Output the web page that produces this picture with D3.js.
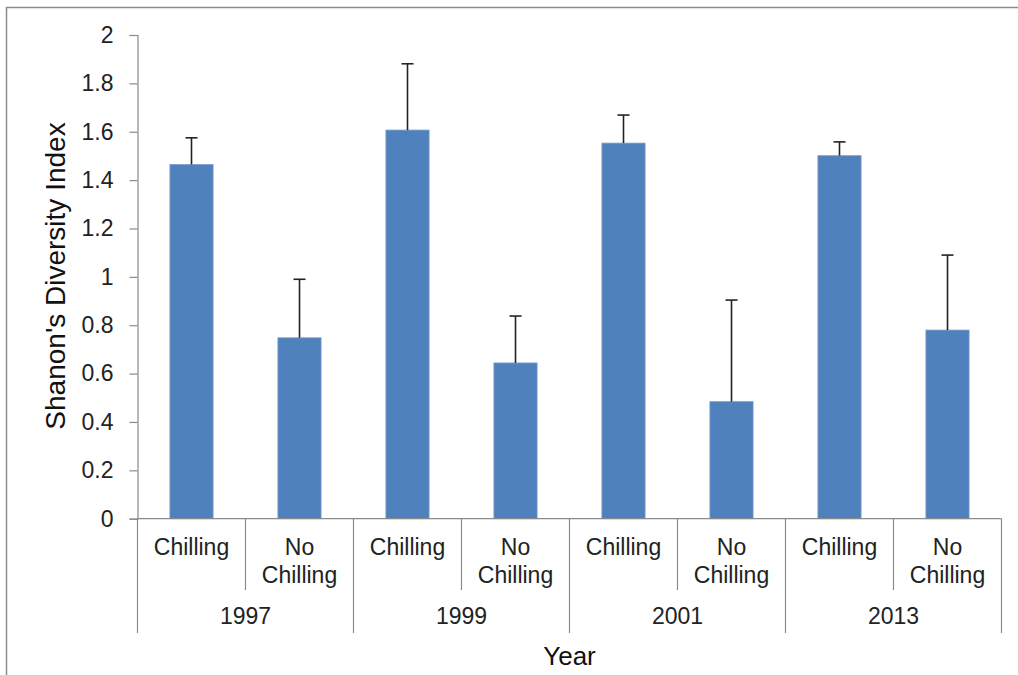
<!DOCTYPE html>
<html><head><meta charset="utf-8">
<script src="https://cdn.jsdelivr.net/npm/d3@7"></script>
<style>body{margin:0;background:#fff}svg{display:block;font-family:"Liberation Sans",Arial,sans-serif}</style>
</head><body>
<svg id="c" width="1018" height="675"></svg>
<script>
const years = ["1997","1999","2001","2013"];
const treatments = ["Chilling","No Chilling"];
const means = [1.465, 0.748, 1.607, 0.644, 1.553, 0.484, 1.501, 0.780];
const errTops = [1.575, 0.990, 1.881, 0.838, 1.669, 0.904, 1.558, 1.090];
const yTicks = [0,0.2,0.4,0.6,0.8,1,1.2,1.4,1.6,1.8,2];

const svg = d3.select("#c");
const L = 137.5, R = 1001.5, T = 35, B = 518.7;
const cats = [];
years.forEach(y => treatments.forEach(t => cats.push(y + "|" + t)));
const data = cats.map((k,i)=>({key:k, year:k.split("|")[0], trt:k.split("|")[1], v:means[i], e:errTops[i]}));

const x = d3.scaleBand().domain(cats).range([L,R]).paddingInner(0.6).paddingOuter(0.3);
const xc = d3.scaleBand().domain(cats).range([L,R]);
const y = d3.scaleLinear().domain([0,2]).range([B,T]);

// outer border
svg.append("rect").attr("x",6.5).attr("y",7.5).attr("width",1030).attr("height",700)
  .attr("fill","none").attr("stroke","#8c8c8c").attr("stroke-width",1.5);

const axisColor = "#8a8a8a";
// Y axis
const ya = svg.append("g").attr("transform",`translate(${L},0)`)
  .call(d3.axisLeft(y).tickValues(yTicks).tickSize(8).tickPadding(16).tickFormat(d3.format("")));
ya.select(".domain").attr("stroke",axisColor).attr("stroke-width",1.2);
ya.selectAll(".tick line").attr("stroke",axisColor).attr("stroke-width",1.2);
ya.selectAll(".tick text").attr("font-size",23).attr("fill","#222").attr("font-family","Liberation Sans, Arial, sans-serif");

// bars
svg.append("g").selectAll("rect").data(data).join("rect")
  .attr("x",d=>x(d.key)).attr("width",x.bandwidth())
  .attr("y",d=>y(d.v)).attr("height",d=>y(0)-y(d.v))
  .attr("fill","#4F81BD").attr("stroke","#7A9FCF").attr("stroke-width",0.8);

// error bars
const eg = svg.append("g").attr("stroke","#222").attr("stroke-width",1.6);
data.forEach(d=>{
  const cx = x(d.key)+x.bandwidth()/2;
  eg.append("line").attr("x1",cx).attr("x2",cx).attr("y1",y(d.v)).attr("y2",y(d.e));
  eg.append("line").attr("x1",cx-6).attr("x2",cx+6).attr("y1",y(d.e)).attr("y2",y(d.e));
});

// x axis baseline
const ag = svg.append("g").attr("stroke",axisColor).attr("stroke-width",1.2);
ag.append("line").attr("x1",L).attr("x2",R).attr("y1",B).attr("y2",B);
ag.append("line").attr("x1",L).attr("x2",L).attr("y1",B).attr("y2",633);
cats.forEach((k,i)=>{
  if(i===0) return;
  const xx = xc(k);
  const yearBoundary = i % 2 === 0;
  ag.append("line").attr("x1",xx).attr("x2",xx).attr("y1",B).attr("y2",yearBoundary?633:590);
});
ag.append("line").attr("x1",R).attr("x2",R).attr("y1",B).attr("y2",633);

// category labels
const lg = svg.append("g").attr("font-size",23).attr("fill","#222").attr("text-anchor","middle");
data.forEach(d=>{
  const cx = xc(d.key)+xc.bandwidth()/2;
  if(d.trt==="Chilling"){
    lg.append("text").attr("x",cx).attr("y",555).text("Chilling");
  } else {
    lg.append("text").attr("x",cx).attr("y",555).text("No");
    lg.append("text").attr("x",cx).attr("y",583).text("Chilling");
  }
});
years.forEach((yr,i)=>{
  const a = xc(cats[i*2]), b = xc(cats[i*2+1])+xc.bandwidth();
  lg.append("text").attr("x",(a+b)/2).attr("y",624).text(yr);
});

// axis titles
svg.append("text").attr("x",(L+R)/2).attr("y",665).attr("text-anchor","middle")
  .attr("font-size",26).attr("fill","#111").text("Year");
svg.append("text").attr("transform",`translate(65,276) rotate(-90)`).attr("text-anchor","middle")
  .attr("font-size",28).attr("fill","#111").text("Shanon's Diversity Index");
</script>
</body></html>
